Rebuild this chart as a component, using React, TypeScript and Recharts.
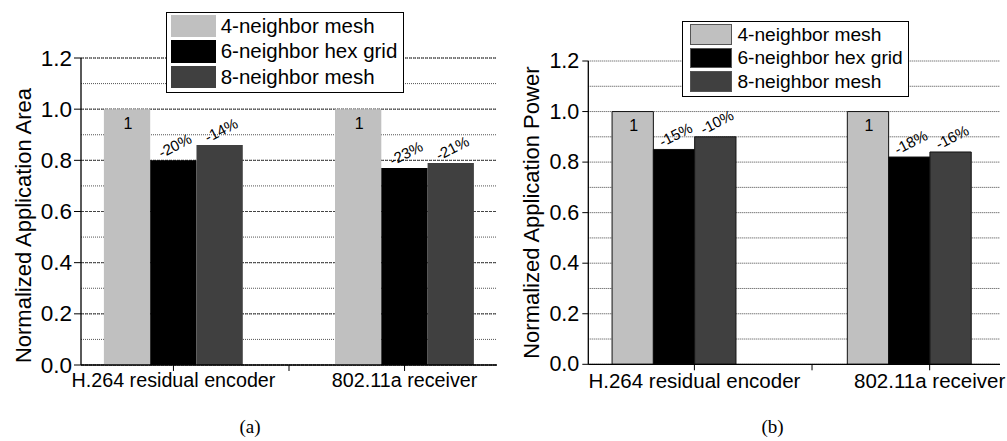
import React from 'react';
import { BarChart, Bar, XAxis, YAxis, CartesianGrid, Legend, LabelList } from 'recharts';

// ---------- data ----------
const categories = ['H.264 residual encoder', '802.11a receiver'];
const seriesNames = ['4-neighbor mesh', '6-neighbor hex grid', '8-neighbor mesh'];
const seriesColors = ['#c0c0c0', '#000000', '#404040'];

const areaMesh4 = [1, 1];
const areaHex6 = [0.8, 0.77];
const areaMesh8 = [0.86, 0.79];
const areaLabelMesh4 = ['1', '1'];
const areaLabelHex6 = ['-20%', '-23%'];
const areaLabelMesh8 = ['-14%', '-21%'];

const powerMesh4 = [1, 1];
const powerHex6 = [0.85, 0.82];
const powerMesh8 = [0.9, 0.84];
const powerLabelMesh4 = ['1', '1'];
const powerLabelHex6 = ['-15%', '-18%'];
const powerLabelMesh8 = ['-10%', '-16%'];

const yMajorTicks = [0, 0.2, 0.4, 0.6, 0.8, 1.0, 1.2];
const yAllTicks = [0, 0.1, 0.2, 0.3, 0.4, 0.5, 0.6, 0.7, 0.8, 0.9, 1.0, 1.1, 1.2];
const yTickLabels = ['0.0', '0.2', '0.4', '0.6', '0.8', '1.0', '1.2'];
const xTicksA = [1, 1.5, 2];
const xTicksB = [1.088, 1.588, 2.088];
const xTickLabels = [categories[0], '', categories[1]];

const buildRows = (a: number[], b: number[], c: number[], la: string[], lb: string[], lc: string[]) =>
  categories.map((cat, i) => ({
    x: i + 1,
    cat,
    s0: a[i],
    s1: b[i],
    s2: c[i],
    l0: la[i],
    l1: lb[i],
    l2: lc[i],
  }));

const areaRows = buildRows(areaMesh4, areaHex6, areaMesh8, areaLabelMesh4, areaLabelHex6, areaLabelMesh8);
const powerRows = buildRows(powerMesh4, powerHex6, powerMesh8, powerLabelMesh4, powerLabelHex6, powerLabelMesh8);

const FONT = '"Liberation Sans", Arial, Helvetica, sans-serif';

type PanelCfg = {
  left: number;
  width: number;
  margin: { top: number; right: number; bottom: number; left: number };
  domain: [number, number];
  xTicks: number[];
  xFont: number;
  xScale: number;
  yFont: number;
  yTickSize: number;
  yTickMargin: number;
  xTickMargin: number;
  barSize: number;
  barStroke?: string;
  majorDash?: string;
  minorStroke: string;
  yLabel: string;
  yLabelDx: number;
  yLabelDy: number;
  legend: {
    left: number; top: number; width: number; padTop: number; padBottom: number; padLeft: number;
    rowH: number; swW: number; swH: number; font: number; swBorder?: string;
  };
};

const InsideTopLabel = (props: any) => {
  const { x, y, width, value } = props;
  const cx = x + width / 2 + 1;
  const cy = y + 14;
  return (
    <text x={cx} y={cy} textAnchor="middle" dominantBaseline="central" fontSize={16} fontFamily={FONT} fill="#000">
      {value}
    </text>
  );
};

const RotLabel = (props: any) => {
  const { x, y, width, value } = props;
  const cx = x + width / 2 + 1.5;
  const cy = y - 15;
  return (
    <text
      x={cx}
      y={cy}
      textAnchor="middle"
      dominantBaseline="central"
      fontSize={15}
      fontFamily={FONT}
      fill="#000"
      transform={`rotate(-27 ${cx} ${cy})`}
    >
      {value}
    </text>
  );
};

function Panel({ rows, cfg }: { rows: any[]; cfg: PanelCfg }) {
  const lg = cfg.legend;
  const renderLegend = (props: any) => {
    const payload = (props && props.payload) || [];
    const items = payload.length
      ? payload.map((p: any, i: number) => ({ name: p.value, color: p.color || seriesColors[i] }))
      : seriesNames.map((n, i) => ({ name: n, color: seriesColors[i] }));
    return (
      <div
        style={{
          boxSizing: 'border-box',
          width: lg.width,
          border: '1px solid #000',
          background: '#fff',
          paddingTop: lg.padTop,
          paddingBottom: lg.padBottom,
          paddingLeft: lg.padLeft,
          fontFamily: FONT,
          fontSize: lg.font,
          color: '#000',
        }}
      >
        {items.map((it: any) => (
          <div key={it.name} style={{ height: lg.rowH, display: 'flex', alignItems: 'center' }}>
            <div
              style={{
                boxSizing: 'border-box',
                width: lg.swW,
                height: lg.swH,
                background: it.color,
                border: lg.swBorder ? `1px solid ${lg.swBorder}` : 'none',
                marginRight: 5,
              }}
            />
            <span style={{ lineHeight: 1, whiteSpace: 'nowrap' }}>{it.name}</span>
          </div>
        ))}
      </div>
    );
  };

  const yLabelContent = (props: any) => {
    const vb = props.viewBox || { x: 0, y: 0, width: 0, height: 0 };
    const cx = vb.x + cfg.yLabelDx;
    const cy = vb.y + vb.height / 2 + cfg.yLabelDy;
    return (
      <text
        x={cx}
        y={cy}
        textAnchor="middle"
        dominantBaseline="central"
        fontSize={22}
        fontFamily={FONT}
        fill="#000"
        transform={`rotate(-90 ${cx} ${cy})`}
      >
        {cfg.yLabel}
      </text>
    );
  };

  const XTick = (props: any) => {
    const { x, y, index } = props;
    const label = xTickLabels[index] || '';
    return (
      <g transform={`translate(${x},${y})`}>
        <text
          transform={`scale(${cfg.xScale},1)`}
          x={0}
          y={0}
          dy="0.71em"
          textAnchor="middle"
          fontSize={cfg.xFont}
          fontFamily={FONT}
          fill="#000"
        >
          {label}
        </text>
      </g>
    );
  };

  const YTick = (props: any) => {
    const { x, y, index } = props;
    return (
      <text
        x={x}
        y={y}
        textAnchor="end"
        dominantBaseline="central"
        fontSize={cfg.yFont}
        fontFamily={FONT}
        fill="#000"
      >
        {yTickLabels[index]}
      </text>
    );
  };

  return (
    <div style={{ position: 'absolute', left: cfg.left, top: 0 }}>
      <BarChart width={cfg.width} height={441} data={rows} margin={cfg.margin} barGap={0}>
        <CartesianGrid yAxisId="r" vertical={false} stroke={cfg.minorStroke} strokeDasharray="1 1" />
        {cfg.majorDash ? (
          <CartesianGrid yAxisId="l" vertical={false} stroke="#444" strokeDasharray={cfg.majorDash} />
        ) : null}
        <XAxis
          type="number"
          dataKey="x"
          domain={cfg.domain}
          ticks={cfg.xTicks}
          allowDataOverflow
          tick={<XTick />}
          tickSize={6}
          tickMargin={cfg.xTickMargin}
          height={30}
          interval={0}
          axisLine={{ stroke: '#000', strokeWidth: 1.3 }}
          tickLine={{ stroke: '#000' }}
        />
        <XAxis
          xAxisId="top"
          orientation="top"
          type="number"
          dataKey="x"
          domain={cfg.domain}
          allowDataOverflow
          tick={false}
          tickLine={false}
          height={0}
          axisLine={{ stroke: '#000', strokeWidth: 1.3 }}
        />
        <YAxis
          yAxisId="l"
          domain={[0, 1.2]}
          ticks={yMajorTicks}
          interval={0}
          allowDataOverflow
          width={60}
          tick={<YTick />}
          tickSize={cfg.yTickSize}
          tickMargin={cfg.yTickMargin}
          axisLine={{ stroke: '#000', strokeWidth: 1.3 }}
          tickLine={{ stroke: '#000' }}
          label={{ content: yLabelContent }}
        />
        <YAxis
          yAxisId="r"
          orientation="right"
          mirror
          domain={[0, 1.2]}
          ticks={yAllTicks}
          interval={0}
          allowDataOverflow
          width={0}
          tickFormatter={() => ''}
          tickSize={5}
          axisLine={{ stroke: '#000', strokeWidth: 1.3 }}
          tickLine={{ stroke: '#000' }}
        />
        <Legend
          layout="vertical"
          align="center"
          verticalAlign="middle"
          content={renderLegend}
          wrapperStyle={{ left: lg.left, top: lg.top, width: lg.width, height: 'auto' }}
        />
        <Bar
          yAxisId="l"
          dataKey="s0"
          name={seriesNames[0]}
          fill={seriesColors[0]}
          barSize={cfg.barSize}
          stroke={cfg.barStroke}
          strokeWidth={cfg.barStroke ? 1 : 0}
          isAnimationActive={false}
        >
          <LabelList dataKey="l0" content={InsideTopLabel} />
        </Bar>
        <Bar
          yAxisId="l"
          dataKey="s1"
          name={seriesNames[1]}
          fill={seriesColors[1]}
          barSize={cfg.barSize}
          stroke={cfg.barStroke}
          strokeWidth={cfg.barStroke ? 1 : 0}
          isAnimationActive={false}
        >
          <LabelList dataKey="l1" content={RotLabel} />
        </Bar>
        <Bar
          yAxisId="l"
          dataKey="s2"
          name={seriesNames[2]}
          fill={seriesColors[2]}
          barSize={cfg.barSize}
          stroke={cfg.barStroke}
          strokeWidth={cfg.barStroke ? 1 : 0}
          isAnimationActive={false}
        >
          <LabelList dataKey="l2" content={RotLabel} />
        </Bar>
      </BarChart>
    </div>
  );
}

const cfgA: PanelCfg = {
  left: 0,
  width: 500,
  margin: { top: 58, right: 3, bottom: 46, left: 21 },
  domain: [0.6, 2.4],
  xTicks: xTicksA,
  xFont: 21,
  xScale: 0.94,
  yFont: 22.5,
  yTickSize: 7,
  yTickMargin: 2,
  xTickMargin: 1,
  barSize: 46.3,
  majorDash: '3 1',
  minorStroke: '#555',
  yLabel: 'Normalized Application Area',
  yLabelDx: 2,
  yLabelDy: 14,
  legend: { left: 165.7, top: 11.7, width: 238.3, padTop: 1, padBottom: 2, padLeft: 4, rowH: 25.3, swW: 45, swH: 22.3, font: 20.5 },
};

const cfgB: PanelCfg = {
  left: 500,
  width: 507,
  margin: { top: 61, right: 7, bottom: 46.7, left: 28.3 },
  domain: [0.637, 2.387],
  xTicks: xTicksB,
  xFont: 20.5,
  xScale: 1,
  yFont: 21.5,
  yTickSize: 6,
  yTickMargin: 3,
  xTickMargin: 3,
  barSize: 41.3,
  barStroke: '#111',
  minorStroke: '#444',
  yLabel: 'Normalized Application Power',
  yLabelDx: 3.7,
  yLabelDy: 0,
  legend: { left: 181.7, top: 20.7, width: 227.6, padTop: 1.3, padBottom: 2.8, padLeft: 7, rowH: 23.3, swW: 42.7, swH: 20.7, font: 19.2, swBorder: '#555' },
};

export default function App() {
  return (
    <div style={{ position: 'absolute', left: 0, top: 0, width: 1007, height: 441, background: '#fff', overflow: 'hidden' }}>
      <Panel rows={areaRows} cfg={cfgA} />
      <Panel rows={powerRows} cfg={cfgB} />
      <div style={{ position: 'absolute', left: 200, width: 100, top: 416, textAlign: 'center', fontFamily: '"Liberation Serif", "Times New Roman", serif', fontSize: 19 }}>
        (a)
      </div>
      <div style={{ position: 'absolute', left: 722.5, width: 100, top: 416, textAlign: 'center', fontFamily: '"Liberation Serif", "Times New Roman", serif', fontSize: 19 }}>
        (b)
      </div>
    </div>
  );
}
